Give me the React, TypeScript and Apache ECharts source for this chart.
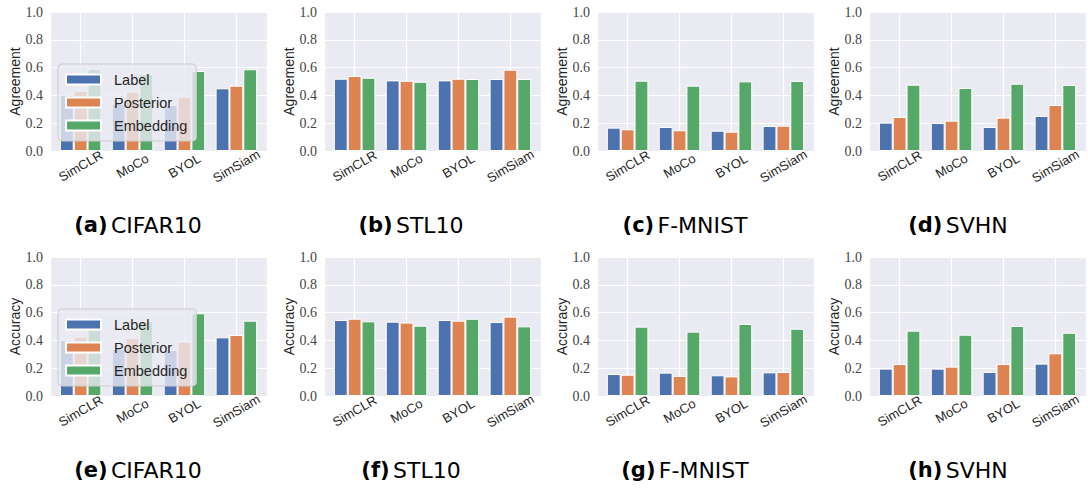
import React, { useEffect, useRef } from "react";
import * as echarts from "echarts";

const CATEGORIES = ["SimCLR", "MoCo", "BYOL", "SimSiam"];
const SERIES_NAMES = ["Label", "Posterior", "Embedding"];
const COLORS = ["#4C72B0", "#DD8452", "#55A868"];
const Y_TICKS = [0, 0.2, 0.4, 0.6, 0.8, 1.0];

// [Label, Posterior, Embedding] per panel
const agreeCifar10 = [
  [0.403, 0.34, 0.331, 0.451],
  [0.434, 0.427, 0.39, 0.47],
  [0.59, 0.554, 0.575, 0.588],
];
const agreeStl10 = [
  [0.52, 0.508, 0.508, 0.518],
  [0.54, 0.505, 0.52, 0.585],
  [0.527, 0.498, 0.518, 0.518],
];
const agreeFmnist = [
  [0.168, 0.173, 0.146, 0.18],
  [0.156, 0.149, 0.139, 0.182],
  [0.506, 0.47, 0.501, 0.504],
];
const agreeSvhn = [
  [0.204, 0.201, 0.173, 0.252],
  [0.245, 0.218, 0.24, 0.331],
  [0.477, 0.453, 0.484, 0.475],
];
const accCifar10 = [
  [0.403, 0.34, 0.331, 0.422],
  [0.427, 0.417, 0.39, 0.439],
  [0.48, 0.54, 0.595, 0.542],
];
const accStl10 = [
  [0.547, 0.535, 0.547, 0.532],
  [0.556, 0.528, 0.542, 0.571],
  [0.537, 0.506, 0.556, 0.501],
];
const accFmnist = [
  [0.158, 0.168, 0.149, 0.17],
  [0.153, 0.144, 0.141, 0.173],
  [0.499, 0.463, 0.518, 0.484],
];
const accSvhn = [
  [0.197, 0.197, 0.173, 0.233],
  [0.23, 0.211, 0.23, 0.307],
  [0.47, 0.441, 0.504, 0.455],
];

const PANELS = [
  { tag: "(a)", dataset: "CIFAR10", metric: "Agreement", data: agreeCifar10 },
  { tag: "(b)", dataset: "STL10", metric: "Agreement", data: agreeStl10 },
  { tag: "(c)", dataset: "F-MNIST", metric: "Agreement", data: agreeFmnist },
  { tag: "(d)", dataset: "SVHN", metric: "Agreement", data: agreeSvhn },
  { tag: "(e)", dataset: "CIFAR10", metric: "Accuracy", data: accCifar10 },
  { tag: "(f)", dataset: "STL10", metric: "Accuracy", data: accStl10 },
  { tag: "(g)", dataset: "F-MNIST", metric: "Accuracy", data: accFmnist },
  { tag: "(h)", dataset: "SVHN", metric: "Accuracy", data: accSvhn },
];

const GRID_LEFTS = [50, 324, 597, 869];
const GRID_TOPS = [12, 257];
const GRID_W = 217;
const GRID_H = 139;
const TITLE_X = [138, 411, 685, 958];
const TITLE_Y = [225, 470];

const SANS = "Liberation Sans";
const SERIF = "Liberation Serif";
const TITLE_FONT = "DejaVu Sans";

function buildOption() {
  const grid: any[] = [];
  const xAxis: any[] = [];
  const yAxis: any[] = [];
  const series: any[] = [];
  const graphic: any[] = [];

  PANELS.forEach((p, i) => {
    const col = i % 4;
    const row = Math.floor(i / 4);
    grid.push({
      left: GRID_LEFTS[col],
      top: GRID_TOPS[row],
      width: GRID_W,
      height: GRID_H,
      show: true,
      backgroundColor: "#EAEAF2",
      borderWidth: 0,
      containLabel: false,
    });
    xAxis.push({
      type: "value",
      gridIndex: i,
      min: -0.59,
      max: 3.59,
      minInterval: 1,
      maxInterval: 1,
      axisLine: { show: false },
      axisTick: { show: false },
      splitLine: { show: true, lineStyle: { color: "#FFFFFF", width: 1.2 } },
      axisLabel: {
        show: true,
        rotate: 30,
        align: "center",
        verticalAlign: "middle",
        margin: 15,
        fontFamily: SANS,
        fontSize: 13,
        color: "#262626",
        showMinLabel: false,
        showMaxLabel: false,
        formatter: (v: number) =>
          Number.isInteger(v) && CATEGORIES[v] !== undefined ? CATEGORIES[v] : "",
      },
    });
    yAxis.push({
      type: "value",
      gridIndex: i,
      min: Y_TICKS[0],
      max: Y_TICKS[Y_TICKS.length - 1],
      interval: 0.2,
      name: p.metric,
      nameLocation: "middle",
      nameGap: 28,
      nameTextStyle: { fontFamily: SANS, fontSize: 14, color: "#262626" },
      axisLine: { show: false },
      axisTick: { show: false },
      splitLine: { show: true, lineStyle: { color: "#FFFFFF", width: 1.2 } },
      axisLabel: {
        margin: 7,
        fontFamily: SERIF,
        fontSize: 14,
        color: "#444444",
        formatter: (v: number) => v.toFixed(1),
      },
    });
    SERIES_NAMES.forEach((name, s) => {
      series.push({
        type: "bar",
        name,
        xAxisIndex: i,
        yAxisIndex: i,
        barGap: "0%",
        barCategoryGap: "20%",
        itemStyle: { color: COLORS[s], borderColor: "#FFFFFF", borderWidth: 1 },
        data: CATEGORIES.map((_, k) => [k, p.data[s][k]]),
      });
    });
    graphic.push({
      type: "text",
      x: TITLE_X[col],
      y: TITLE_Y[row],
      style: {
        text: `{b|${p.tag}} {r|${p.dataset}}`,
        align: "center",
        verticalAlign: "middle",
        fill: "#000",
        rich: {
          b: { fontFamily: TITLE_FONT, fontWeight: "bold", fontSize: 21, fill: "#000" },
          r: { fontFamily: TITLE_FONT, fontSize: 22, fill: "#000" },
        },
      },
    });
  });

  const legendCommon = {
    orient: "vertical",
    left: 58,
    data: SERIES_NAMES,
    icon: "rect",
    itemWidth: 35,
    itemHeight: 10,
    itemGap: 8,
    padding: [8, 9, 8, 7],
    backgroundColor: "rgba(234,234,242,0.8)",
    borderColor: "#CCCCCC",
    borderWidth: 1,
    borderRadius: 4,
    selectedMode: false,
    textStyle: { fontFamily: SANS, fontSize: 14.5, color: "#262626", padding: [0, 0, 0, 8] },
  };

  return {
    animation: false,
    backgroundColor: "#FFFFFF",
    grid,
    xAxis,
    yAxis,
    series,
    graphic,
    legend: [
      { ...legendCommon, top: 64 },
      { ...legendCommon, top: 309 },
    ],
  };
}

export default function App() {
  const ref = useRef<HTMLDivElement>(null);
  useEffect(() => {
    if (!ref.current) return;
    const chart = echarts.init(ref.current, undefined, { renderer: "svg" });
    chart.setOption(buildOption() as any);
    return () => chart.dispose();
  }, []);
  return (
    <div
      ref={ref}
      style={{ position: "fixed", left: 0, top: 0, width: 1088, height: 490 }}
    />
  );
}
